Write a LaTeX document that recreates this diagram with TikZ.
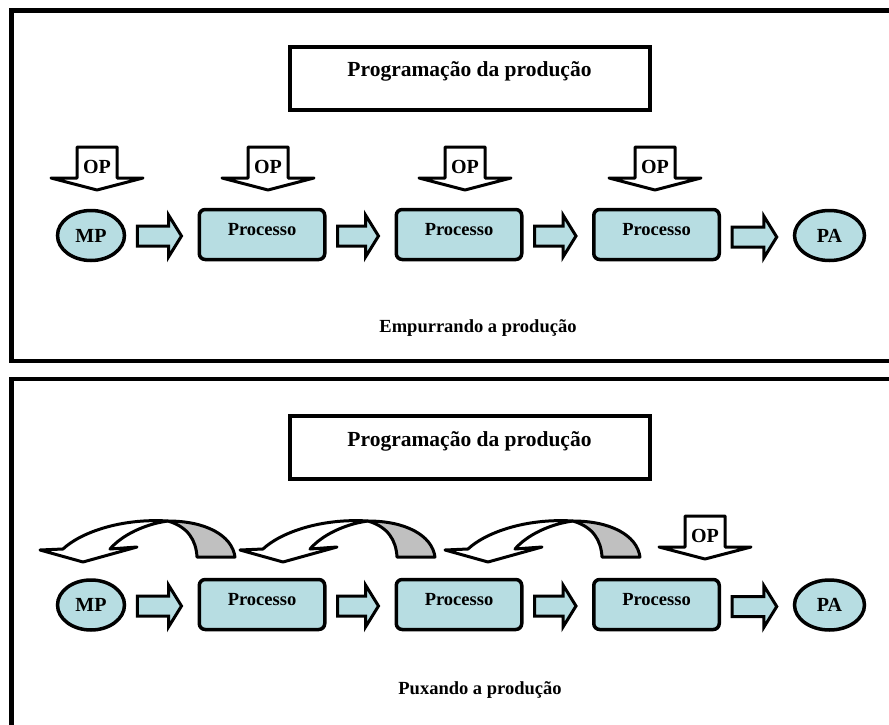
\documentclass[tikz,border=0pt]{standalone}
\usepackage{fontspec}
\setmainfont{Liberation Serif}
\usetikzlibrary{calc,shapes.geometric}

\definecolor{stagefill}{RGB}{183,221,226}
\definecolor{ribbonback}{RGB}{192,192,192}

\tikzset{
  panelframe/.style={line width=4.5pt},
  plantitle/.style={draw, line width=4pt, minimum width=360pt, minimum height=62.5pt,
    inner sep=0pt, font=\fontsize{21.5}{24}\selectfont\bfseries,
    text height=15pt, text depth=17.5pt},
  stagebox/.style={draw, line width=3.5pt, fill=stagefill, rounded corners=6pt,
    minimum width=125.5pt, minimum height=50pt, inner sep=0pt,
    font=\fontsize{18.5}{20}\selectfont\bfseries, text height=12pt, text depth=11pt},
  endstock/.style={draw, ellipse, line width=3.5pt, fill=stagefill,
    minimum height=50pt, inner sep=0pt, font=\fontsize{20}{22}\selectfont\bfseries},
  caption/.style={anchor=base, inner sep=0pt, font=\fontsize{18.5}{20}\selectfont\bfseries},
  flowline/.style={draw, line width=3pt, fill=stagefill, line join=miter},
  orderline/.style={draw, line width=3pt, fill=white, line join=round},
  ordertext/.style={anchor=base, inner sep=0pt, font=\fontsize{20}{22}\selectfont\bfseries},
  ribbonline/.style={draw, line width=3pt, line join=round},
  % downward order arrow, origin at the top centre of its shaft
  orderarrow/.pic={
    \path[orderline] (-20,0) -- (20,0) -- (20,31) -- (46,31) -- (0,43)
      -- (-46,31) -- (-20,31) -- cycle;
    \node[ordertext] (-lbl) at (0,26) {OP};
  },
  % curved return arrow, origin at the left barb of its head
  returnarrow/.pic={
    \path[ribbonline, fill=ribbonback] (128,-29) .. controls (165,-29) and (192,-15) .. (195,7)
      -- (157,7) .. controls (156,-10) and (148,-23) .. (128,-29) -- cycle;
    \path[ribbonline, fill=white] (0,0) -- (43,12) -- (97,-3) -- (70,-1)
      .. controls (82,-15) and (105,-26) .. (128,-29)
      .. controls (80,-32) and (40,-17) .. (23,-1) -- cycle;
  },
}

% block arrow between two nodes of a row
\newcommand{\flowlink}[2]{%
  \path[flowline] let \p1=(#1.east), \p2=(#2.west),
      \p3=({\x1+11pt},{\y2-1.5pt}), \p4=({\x2-16pt},{\y2-1.5pt}) in
    (\x3,{\y3+10pt}) -- ({\x4-13pt},{\y3+10pt}) -- ({\x4-13pt},{\y3+21pt}) -- (\x4,\y3)
    -- ({\x4-13pt},{\y3-21pt}) -- ({\x4-13pt},{\y3-10pt}) -- (\x3,{\y3-10pt}) -- cycle;}

\begin{document}
\begin{tikzpicture}[x=1pt, y=-1pt]
\clip (0,0) rectangle (889,725);
\fill[white] (0,0) rectangle (889,725);

% ---------- push system ----------
\draw[panelframe] (11.5,10.5) rectangle (910,361);
\node[plantitle] (planA) at (469.5,78.25) {Programação da produção};

\node[endstock, minimum width=67pt] (mpA) at (91,235.5) {MP};
\node[stagebox] (stA1) at (262,234.5) {Processo};
\node[stagebox] (stA2) at (459,234.5) {Processo};
\node[stagebox] (stA3) at (656.5,234.5) {Processo};
\node[endstock, minimum width=70pt] (paA) at (829.5,235.5) {PA};

\flowlink{mpA}{stA1}
\flowlink{stA1}{stA2}
\flowlink{stA2}{stA3}
\flowlink{stA3}{paA}

\pic (opA1) at (97,147) {orderarrow};
\pic (opA2) at (268,147) {orderarrow};
\pic (opA3) at (465,147) {orderarrow};
\pic (opA4) at (655,147) {orderarrow};

\node[caption] (pushcap) at (478,332) {Empurrando a produção};

% ---------- pull system ----------
\draw[panelframe] (11.5,379) rectangle (910,760);
\node[plantitle] (planB) at (469.5,447.25) {Programação da produção};

\node[endstock, minimum width=67pt] (mpB) at (91,605) {MP};
\node[stagebox] (stB1) at (262,604.5) {Processo};
\node[stagebox] (stB2) at (459,604.5) {Processo};
\node[stagebox] (stB3) at (656.5,604.5) {Processo};
\node[endstock, minimum width=70pt] (paB) at (829.5,605) {PA};

\flowlink{mpB}{stB1}
\flowlink{stB1}{stB2}
\flowlink{stB2}{stB3}
\flowlink{stB3}{paB}

\pic at (40,550) {returnarrow};
\pic at (240,550) {returnarrow};
\pic at (445,550) {returnarrow};

\pic (opB) at (705,516) {orderarrow};

\node[caption] (pullcap) at (480,694) {Puxando a produção};
\end{tikzpicture}
\end{document}
